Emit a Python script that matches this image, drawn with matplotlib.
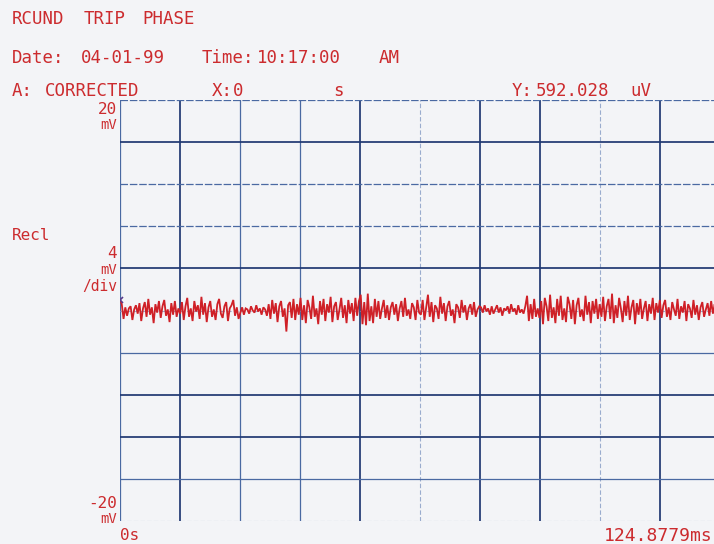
import numpy as np
import matplotlib
matplotlib.use("Agg")
import matplotlib.pyplot as plt

# Sweep settings
t_stop_ms = 124.8779
y_top_mv = 20.0
y_bottom_mv = -20.0
n_div = 10

# Round-trip phase trace, tenths of a millivolt, one row per horizontal division
trace_tenths_mv = [
    10, 6, -8, 3, -5, 2, 4, -9, 1, 5, -3, 7, -10, 2, 8, -6, 11, -4, 3, -12, 6, -2, 9, -7, 4, 10, -5, 1, -11, 7, -4, 9, -6, 2,
    -3, 8, -9, 4, 12, -6, 2, -10, 9, -1, 5, -8, 13, -4, 7, -11, 3, 9, -6, 1, -9, 6, 11, -3, -7, 4, 8, -10, 2, 5, 10, -5, 3, -8,
    -2, 3, -4, 2, 1, -3, 4, 0, -2, 5, -1, 2, -4, 3, 1, -5, 6, -8, 10, -3, 7, -11, 4, 9, -6, 2, -20, 5, 8, -7, 11, -9, 6, -4,
    12, -9, 5, -12, 10, 3, -8, 14, -6, 2, -13, 9, -4, 11, -10, 6, -2, 13, -11, 4, 8, -9, 1, 12, -7, 5, -12, 10, -3, 7, -10, 12, -5, 9,
    15, -13, 8, -14, 16, -10, 4, -12, 11, -6, 9, -8, 2, 10, -7, 5, -9, 3, 8, -4, 6, -10, 2, 9, -6, 12, -5, 1, -8, 7, 3, -9, 10, -2,
    -4, 10, -9, 3, 15, -6, 8, -11, 5, 2, -8, 13, -3, 7, -10, 4, 9, -5, 1, -12, 6, 3, -7, 10, -2, 5, -9, 2, 6, -4, 8, -6, 1, 4,
    3, -2, 5, -1, 2, -4, 4, -3, 1, 5, -2, 3, -5, 2, 0, 4, -3, 6, -1, 2, -4, 5, -2, 1, -3, 4, 14, -10, 6, -8, 11, -6, 2, -7,
    9, -13, 12, 4, -10, 15, -7, 3, -12, 11, -5, 14, -9, 2, -11, 13, 6, -8, 10, -13, 5, 12, -6, 1, -10, 14, -4, 8, -12, 9, -3, 11, -8, 6,
    -6, 13, -10, 4, 11, -8, 16, -12, 5, -7, 12, 2, -11, 9, -5, 14, -9, 3, 10, -13, 7, -4, 11, -8, 2, 9, -10, 6, -3, 12, -9, 7, -2, 10,
    -7, 5, 10, -6, 3, -9, 8, 1, -5, 11, -8, 4, -2, 9, -10, 6, 2, -7, 10, -4, 5, -9, 3, 8, -6, 1, 7, -5, 9, -3, 6, -8, 4, -2,
]

header_title = ["RCUND", "TRIP", "PHASE"]
header_date = ["Date:", "04-01-99", "Time:", "10:17:00", "AM"]
header_marker = ["A:", "CORRECTED", "X:", "0", "s", "Y:", "592.028", "uV"]
x_start_label = "0s"
x_stop_label = "124.8779ms"

W, H = 714, 544
INK = "#cc2b2e"
FONT = "DejaVu Sans Mono"

fig = plt.figure(figsize=(W / 100, H / 100), dpi=100)
fig.patch.set_facecolor("#f3f4f7")


def put(x, y, s, size=12.5, ha="left", **kw):
    """Place text at pixel coordinates measured from the top-left corner."""
    fig.text(x / W, 1 - y / H, s, ha=ha, va="center", fontsize=size,
             family=FONT, color=INK, **kw)


# Header lines
for x, s in zip([12, 84, 142], header_title):
    put(x, 19, s)
for x, s in zip([12, 81, 202, 257, 379], header_date):
    put(x, 58, s)
for x, s in zip([12, 45, 212, 233, 333, 512, 536, 630], header_marker):
    put(x, 91, s)

# Plot area (right end runs past the paper edge)
ax = fig.add_axes([120 / W, 1 - 521 / H, 600 / W, 421 / H])
ax.set_facecolor("#f3f4f7")
ax.set_xlim(0, t_stop_ms)
ax.set_ylim(y_bottom_mv, y_top_mv)
for sp in ax.spines.values():
    sp.set_visible(False)
ax.set_xticks([])
ax.set_yticks([])

DARK, MED, FAINT = "#1f3872", "#4a69a2", "#9aacce"
styles = {
    "d": dict(color=DARK, lw=1.25, ls="-"),
    "m": dict(color=MED, lw=0.9, ls="-"),
    "f": dict(color=FAINT, lw=0.8, ls=(0, (4, 2))),
    "l": dict(color=MED, lw=0.9, ls=(0, (6, 1.5))),
}
v_style = ["m", "d", "m", "m", "d", "f", "d", "d", "f", "d", "m"]
h_style = ["l", "d", "l", "l", "d", "f", "m", "d", "d", "m", "f"]  # top to bottom

xs = np.linspace(0, t_stop_ms, n_div + 1)
ys = np.linspace(y_top_mv, y_bottom_mv, n_div + 1)
for x, st in zip(xs, v_style):
    ax.axvline(x, zorder=1, **styles[st])
for y, st in zip(ys, h_style):
    ax.axhline(y, zorder=1, **styles[st])

vals = np.array(trace_tenths_mv) / 10.0
t = np.linspace(0, t_stop_ms, len(vals))
ax.plot(t, vals, color="#cf2027", lw=1.3, zorder=3, solid_joinstyle="miter")
ax.plot(t[0], vals[0], marker="x", ms=5, mew=1.2, color="#5a3c8c", zorder=4)

# Scale annotations
put(117, 109, "20", size=11.5, ha="right")
put(117, 125, "mV", size=10, ha="right")
put(12, 235, "Recl", size=11.5)
put(117, 253, "4", size=11.5, ha="right")
put(117, 270, "mV", size=10, ha="right")
put(117, 286, "/div", size=10.5, ha="right")
put(117, 503, "-20", size=11.5, ha="right")
put(117, 519, "mV", size=10, ha="right")
put(120, 536, x_start_label, size=11.5)
put(604, 536, x_stop_label, size=13)

fig.savefig("out.png", dpi=100, facecolor=fig.get_facecolor())
